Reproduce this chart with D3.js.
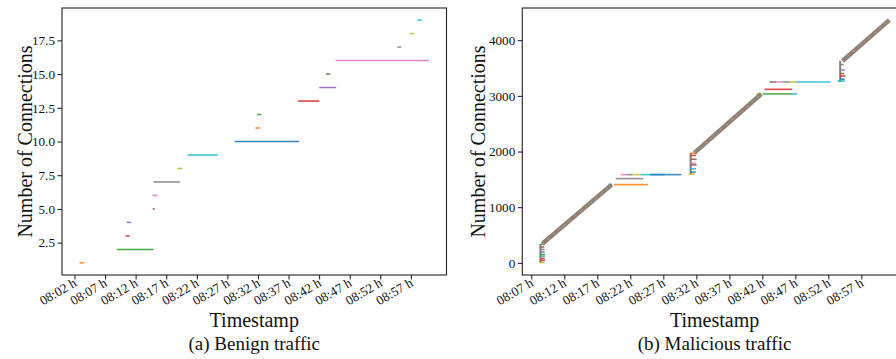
<!DOCTYPE html>
<html>
<head>
<meta charset="utf-8">
<script src="https://cdn.jsdelivr.net/npm/d3@7"></script>
<style>
html, body { margin: 0; padding: 0; background: #fff; overflow: hidden; }
svg { display: block; font-family: "Liberation Serif", "DejaVu Serif", serif; }
</style>
</head>
<body>
<svg id="chart" width="896" height="359"></svg>
<script>
// matplotlib tab10 cycle
var tab10 = ["#1f77b4", "#ff7f0e", "#2ca02c", "#d62728", "#9467bd",
             "#8c564b", "#e377c2", "#7f7f7f", "#bcbd22", "#17becf"];

// ---- (a) benign traffic: connection n spans [start, end], drawn at y = n
var benignStart = ["08:02:49", "08:08:54", "08:10:22", "08:10:32", "08:14:46",
                   "08:14:46", "08:14:56", "08:18:48", "08:20:29", "08:28:12",
                   "08:31:35", "08:31:51", "08:38:32", "08:42:01", "08:43:07",
                   "08:44:41", "08:54:47", "08:56:52", "08:58:03"];
var benignEnd   = ["08:03:34", "08:14:56", "08:11:01", "08:11:18", "08:15:09",
                   "08:15:32", "08:19:17", "08:19:37", "08:25:26", "08:38:45",
                   "08:32:23", "08:32:33", "08:42:01", "08:44:47", "08:43:49",
                   "08:59:58", "08:55:26", "08:57:31", "08:58:46"];
var benignXTicks = ["08:02", "08:07", "08:12", "08:17", "08:22", "08:27",
                    "08:32", "08:37", "08:42", "08:47", "08:52", "08:57"];
var benignYTicks = [2.5, 5.0, 7.5, 10.0, 12.5, 15.0, 17.5];

// ---- (b) malicious traffic
// dense runs of short connections, they merge into one thick band: [time, count]
var malRamps = [
    [["08:08:40", 342], ["08:19:11", 1405]],
    [["08:31:42", 1976], ["08:41:50", 3033]],
    [["08:54:08", 3627], ["09:01:14", 4360]]
];
// bursts of connections opened at once: [time, fromCount, toCount]
var malBursts = [
    ["08:08:23", 0, 342],
    ["08:31:08", 1585, 1976],
    ["08:53:47", 3249, 3627]
];
// single visible connections: [start, end, count, colour index]
var malSegments = [
    ["08:08:17", "08:09:00", 5, 8], ["08:08:23", "08:09:05", 45, 3],
    ["08:08:23", "08:09:02", 80, 3], ["08:08:23", "08:09:05", 120, 9],
    ["08:08:23", "08:09:04", 150, 2], ["08:08:23", "08:09:02", 195, 4],
    ["08:08:23", "08:09:00", 240, 7], ["08:08:23", "08:08:58", 285, 5],
    ["08:08:25", "08:09:05", 335, 2],
    ["08:18:40", "08:19:14", 1405, 9],
    ["08:19:32", "08:24:41", 1405, 1],
    ["08:19:48", "08:23:56", 1513, 7],
    ["08:20:33", "08:21:28", 1585, 6], ["08:21:28", "08:22:22", 1585, 7],
    ["08:22:22", "08:23:35", 1585, 8], ["08:23:35", "08:27:13", 1585, 9],
    ["08:25:00", "08:27:13", 1585, 0], ["08:27:13", "08:29:44", 1585, 0],
    ["08:30:50", "08:31:45", 1595, 8], ["08:31:08", "08:31:55", 1630, 0],
    ["08:31:08", "08:31:58", 1690, 9], ["08:31:08", "08:32:03", 1760, 5],
    ["08:31:08", "08:31:55", 1790, 6], ["08:31:08", "08:32:03", 1860, 5],
    ["08:31:08", "08:31:58", 1930, 3], ["08:31:08", "08:32:03", 1970, 1],
    ["08:41:05", "08:41:52", 3033, 8],
    ["08:42:04", "08:46:31", 3035, 2], ["08:46:31", "08:47:16", 3035, 9],
    ["08:42:20", "08:46:31", 3117, 3],
    ["08:43:05", "08:44:09", 3249, 5], ["08:44:09", "08:45:03", 3249, 6],
    ["08:45:03", "08:46:07", 3249, 7], ["08:46:07", "08:47:10", 3249, 8],
    ["08:47:10", "08:52:19", 3249, 9],
    ["08:53:22", "08:54:30", 3265, 9], ["08:53:47", "08:54:30", 3300, 0],
    ["08:53:47", "08:54:35", 3355, 3], ["08:53:47", "08:54:25", 3400, 5],
    ["08:53:47", "08:54:30", 3465, 4], ["08:53:47", "08:54:20", 3560, 7]
];
var malXTicks = ["08:07", "08:12", "08:17", "08:22", "08:27", "08:32",
                 "08:37", "08:42", "08:47", "08:52", "08:57"];
var malYTicks = [0, 1000, 2000, 3000, 4000];

var parseTime = d3.timeParse("%H:%M:%S");
var parseTick = d3.timeParse("%H:%M");
var fmtTick = d3.timeFormat("%H:%M h");

var svg = d3.select("#chart");
var PW = 384.5, PH = 267, TOP = 8;
var FONT = "'Liberation Serif', 'DejaVu Serif', serif";

// matplotlib style 5% margins
function pad(lo, hi) {
    var m = (hi - lo) * 0.05;
    return [lo - m, hi + m];
}

function makePanel(left, opts) {
    var g = svg.append("g").attr("transform", "translate(" + left + "," + TOP + ")");

    var xd = pad(+opts.tMin, +opts.tMax);
    var x = d3.scaleTime().domain([new Date(xd[0]), new Date(xd[1])]).range([0, PW]);
    var y = d3.scaleLinear().domain(pad(opts.cMin, opts.cMax)).range([PH, 0]);

    var xAxis = d3.axisBottom(x)
        .tickValues(opts.xTicks.map(parseTick))
        .tickFormat(fmtTick)
        .tickSize(4.5);
    var gx = g.append("g").attr("transform", "translate(0," + PH + ")").call(xAxis);
    gx.select(".domain").remove();
    gx.selectAll("text")
        .attr("y", 0).attr("dy", 0)
        .attr("text-anchor", "end")
        .attr("transform", "translate(2.5,10.5) rotate(-30)");

    var yAxis = d3.axisLeft(y)
        .tickValues(opts.yTicks)
        .tickFormat(opts.yFormat)
        .tickSize(4.5)
        .tickPadding(2.5);
    var gy = g.append("g").call(yAxis);
    gy.select(".domain").remove();

    // d3 puts sans-serif on the axis groups, undo that
    gx.attr("font-family", FONT).attr("font-size", 13.2);
    gy.attr("font-family", FONT).attr("font-size", 13.2);
    g.selectAll(".tick text").attr("fill", "#111");
    g.selectAll(".tick line").attr("stroke", "#111").attr("stroke-width", 1);

    // frame
    g.append("rect")
        .attr("x", 0).attr("y", 0).attr("width", PW).attr("height", PH)
        .attr("fill", "none").attr("stroke", "#222").attr("stroke-width", 1.1);

    // labels
    svg.append("text")
        .attr("transform", "translate(" + (left - opts.yLabelOff) + "," + (TOP + PH / 2) + ") rotate(-90)")
        .attr("text-anchor", "middle")
        .style("font-size", "20px")
        .attr("fill", "#111")
        .text("Number of Connections");
    svg.append("text")
        .attr("x", left + PW / 2).attr("y", 327)
        .attr("text-anchor", "middle")
        .style("font-size", "20px")
        .attr("fill", "#111")
        .text("Timestamp");
    svg.append("text")
        .attr("x", left + PW / 2).attr("y", 350)
        .attr("text-anchor", "middle")
        .style("font-size", "19px")
        .attr("fill", "#111")
        .text(opts.caption);

    return { g: g, x: x, y: y };
}

// ---------------- (a) benign
var bStarts = benignStart.map(parseTime);
var bEnds = benignEnd.map(parseTime);
var a = makePanel(62, {
    tMin: d3.min(bStarts), tMax: d3.max(bEnds),
    cMin: 1, cMax: benignStart.length,
    xTicks: benignXTicks, yTicks: benignYTicks,
    yFormat: d3.format(".1f"),
    yLabelOff: 30,
    caption: "(a) Benign traffic"
});

a.g.append("g").selectAll("line")
    .data(benignStart.map(function(s, i) { return { s: bStarts[i], e: bEnds[i], n: i + 1 }; }))
    .join("line")
    .attr("x1", function(d) { return a.x(d.s); })
    .attr("x2", function(d) { return a.x(d.e); })
    .attr("y1", function(d) { return a.y(d.n); })
    .attr("y2", function(d) { return a.y(d.n); })
    .attr("stroke", function(d) { return tab10[d.n % 10]; })
    .attr("stroke-width", 1.5)
    .attr("opacity", 0.9);

// ---------------- (b) malicious
var allTimes = [];
malSegments.forEach(function(s) { allTimes.push(parseTime(s[0]), parseTime(s[1])); });
malRamps.forEach(function(r) { r.forEach(function(p) { allTimes.push(parseTime(p[0])); }); });
var allCounts = [];
malRamps.forEach(function(r) { r.forEach(function(p) { allCounts.push(p[1]); }); });
malBursts.forEach(function(b) { allCounts.push(b[1], b[2]); });

var b = makePanel(522.3, {
    tMin: d3.min(allTimes), tMax: d3.max(allTimes),
    cMin: d3.min(allCounts), cMax: d3.max(allCounts),
    xTicks: malXTicks, yTicks: malYTicks,
    yFormat: d3.format("d"),
    yLabelOff: 37,
    caption: "(b) Malicious traffic"
});

var rampLine = d3.line()
    .x(function(d) { return b.x(parseTime(d[0])); })
    .y(function(d) { return b.y(d[1]); });

var marks = b.g.append("g");

// burst columns
marks.selectAll("line.burst")
    .data(malBursts)
    .join("line")
    .attr("class", "burst")
    .attr("x1", function(d) { return b.x(parseTime(d[0])); })
    .attr("x2", function(d) { return b.x(parseTime(d[0])); })
    .attr("y1", function(d) { return b.y(d[1]); })
    .attr("y2", function(d) { return b.y(d[2]); })
    .attr("stroke", "#857a6e")
    .attr("stroke-width", 2);

marks.selectAll("line.seg")
    .data(malSegments)
    .join("line")
    .attr("class", "seg")
    .attr("x1", function(d) { return b.x(parseTime(d[0])); })
    .attr("x2", function(d) { return b.x(parseTime(d[1])); })
    .attr("y1", function(d) { return b.y(d[2]); })
    .attr("y2", function(d) { return b.y(d[2]); })
    .attr("stroke", function(d) { return tab10[d[3]]; })
    .attr("stroke-width", 1.6)
    .attr("opacity", 0.85);

// dense bands, base colour plus a bit of the cycle showing through
marks.selectAll("path.ramp")
    .data(malRamps)
    .join("path")
    .attr("class", "ramp")
    .attr("d", rampLine)
    .attr("fill", "none")
    .attr("stroke", "#8f8275")
    .attr("stroke-width", 4.5);
marks.selectAll("path.ramp2")
    .data(malRamps)
    .join("path")
    .attr("class", "ramp2")
    .attr("d", rampLine)
    .attr("fill", "none")
    .attr("stroke", "#c98c8a")
    .attr("stroke-width", 1.4)
    .attr("stroke-dasharray", "2 5")
    .attr("opacity", 0.8);
marks.selectAll("path.ramp3")
    .data(malRamps)
    .join("path")
    .attr("class", "ramp3")
    .attr("d", rampLine)
    .attr("fill", "none")
    .attr("stroke", "#8aa283")
    .attr("stroke-width", 1.2)
    .attr("stroke-dasharray", "2 7")
    .attr("stroke-dashoffset", 3)
    .attr("opacity", 0.7);
</script>
</body>
</html>
